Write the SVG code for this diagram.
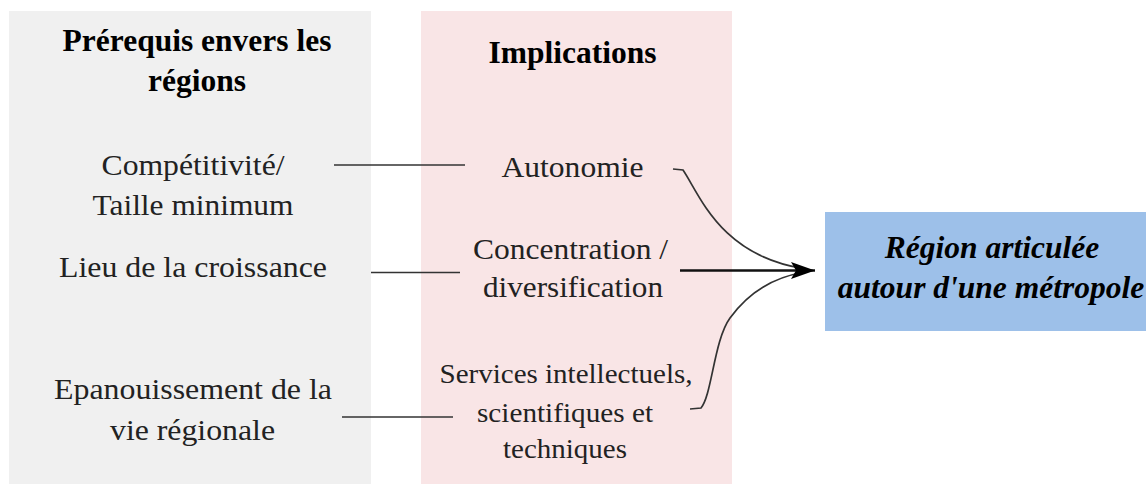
<svg xmlns="http://www.w3.org/2000/svg" width="1146" height="484" viewBox="0 0 1146 484">
<defs>
<style>
.hdr{font-family:"Liberation Serif","Times New Roman",serif;font-weight:bold;font-size:31.5px;fill:#000;text-anchor:middle}
.txt{font-family:"Liberation Serif","Times New Roman",serif;font-size:30px;fill:#222;text-anchor:middle}
.sm{font-size:28px}
.res{font-family:"Liberation Serif","Times New Roman",serif;font-weight:bold;font-style:italic;font-size:31.5px;fill:#000;text-anchor:middle}
.ln{stroke:#333;stroke-width:1.7;fill:none}
</style>
<marker id="arr" markerUnits="userSpaceOnUse" markerWidth="26" markerHeight="22" viewBox="0 0 26 22" refX="24" refY="11" orient="auto">
<path d="M0,2.5 L24,11 L0,19.5 L5,11 Z" fill="#000"/>
</marker>
</defs>
<rect width="1146" height="484" fill="#fff"/>
<g id="col-prerequis">
<rect x="9" y="11" width="362" height="473" fill="#f0f0f0"/>
<text class="hdr" x="197" y="51">Prérequis envers les</text>
<text class="hdr" x="197" y="91">régions</text>
</g>
<g id="col-implications">
<rect x="421" y="11" width="311" height="473" fill="#f9e5e6"/>
<text class="hdr" x="572.5" y="63">Implications</text>
</g>
<g id="n-competitivite">
<text class="txt" x="193" y="175" textLength="183" lengthAdjust="spacingAndGlyphs">Compétitivité/</text>
<text class="txt" x="193" y="215" textLength="201" lengthAdjust="spacingAndGlyphs">Taille minimum</text>
</g>
<g id="n-lieu">
<text class="txt" x="193" y="277" textLength="268" lengthAdjust="spacingAndGlyphs">Lieu de la croissance</text>
</g>
<g id="n-epanouissement">
<text class="txt" x="193" y="399" textLength="278" lengthAdjust="spacingAndGlyphs">Epanouissement de la</text>
<text class="txt" x="192.5" y="440" textLength="165" lengthAdjust="spacingAndGlyphs">vie régionale</text>
</g>
<g id="n-autonomie">
<text class="txt" x="572.5" y="177" textLength="142" lengthAdjust="spacingAndGlyphs">Autonomie</text>
</g>
<g id="n-concentration">
<text class="txt" x="570.5" y="259" textLength="195" lengthAdjust="spacingAndGlyphs">Concentration /</text>
<text class="txt" x="573" y="297" textLength="180" lengthAdjust="spacingAndGlyphs">diversification</text>
</g>
<g id="n-services">
<text class="txt sm" x="566" y="383" textLength="253" lengthAdjust="spacingAndGlyphs">Services intellectuels,</text>
<text class="txt sm" x="565" y="422" textLength="176" lengthAdjust="spacingAndGlyphs">scientifiques et</text>
<text class="txt sm" x="565" y="458" textLength="124" lengthAdjust="spacingAndGlyphs">techniques</text>
</g>
<g id="n-region">
<rect x="825" y="212" width="330" height="119" fill="#9dc0e9"/>
<text class="res" x="992" y="258">Région articulée</text>
<text class="res" x="991" y="298">autour d'une métropole</text>
</g>
<g id="connectors">
<line class="ln" x1="334" y1="165" x2="465" y2="165"/>
<line class="ln" x1="371" y1="272.5" x2="460" y2="272.5"/>
<line class="ln" x1="342" y1="417" x2="453" y2="417"/>
<path class="ln" d="M673,169 L683,170 C700,195 720,255 803,268.5"/>
<path class="ln" d="M690,409 L701,408 C712,395 714,340 730,318 C746,296 770,278 803,272.5"/>
<path d="M680,270.5 L815,270.5" stroke="#111" stroke-width="2.6" fill="none" marker-end="url(#arr)"/>
</g>
</svg>
